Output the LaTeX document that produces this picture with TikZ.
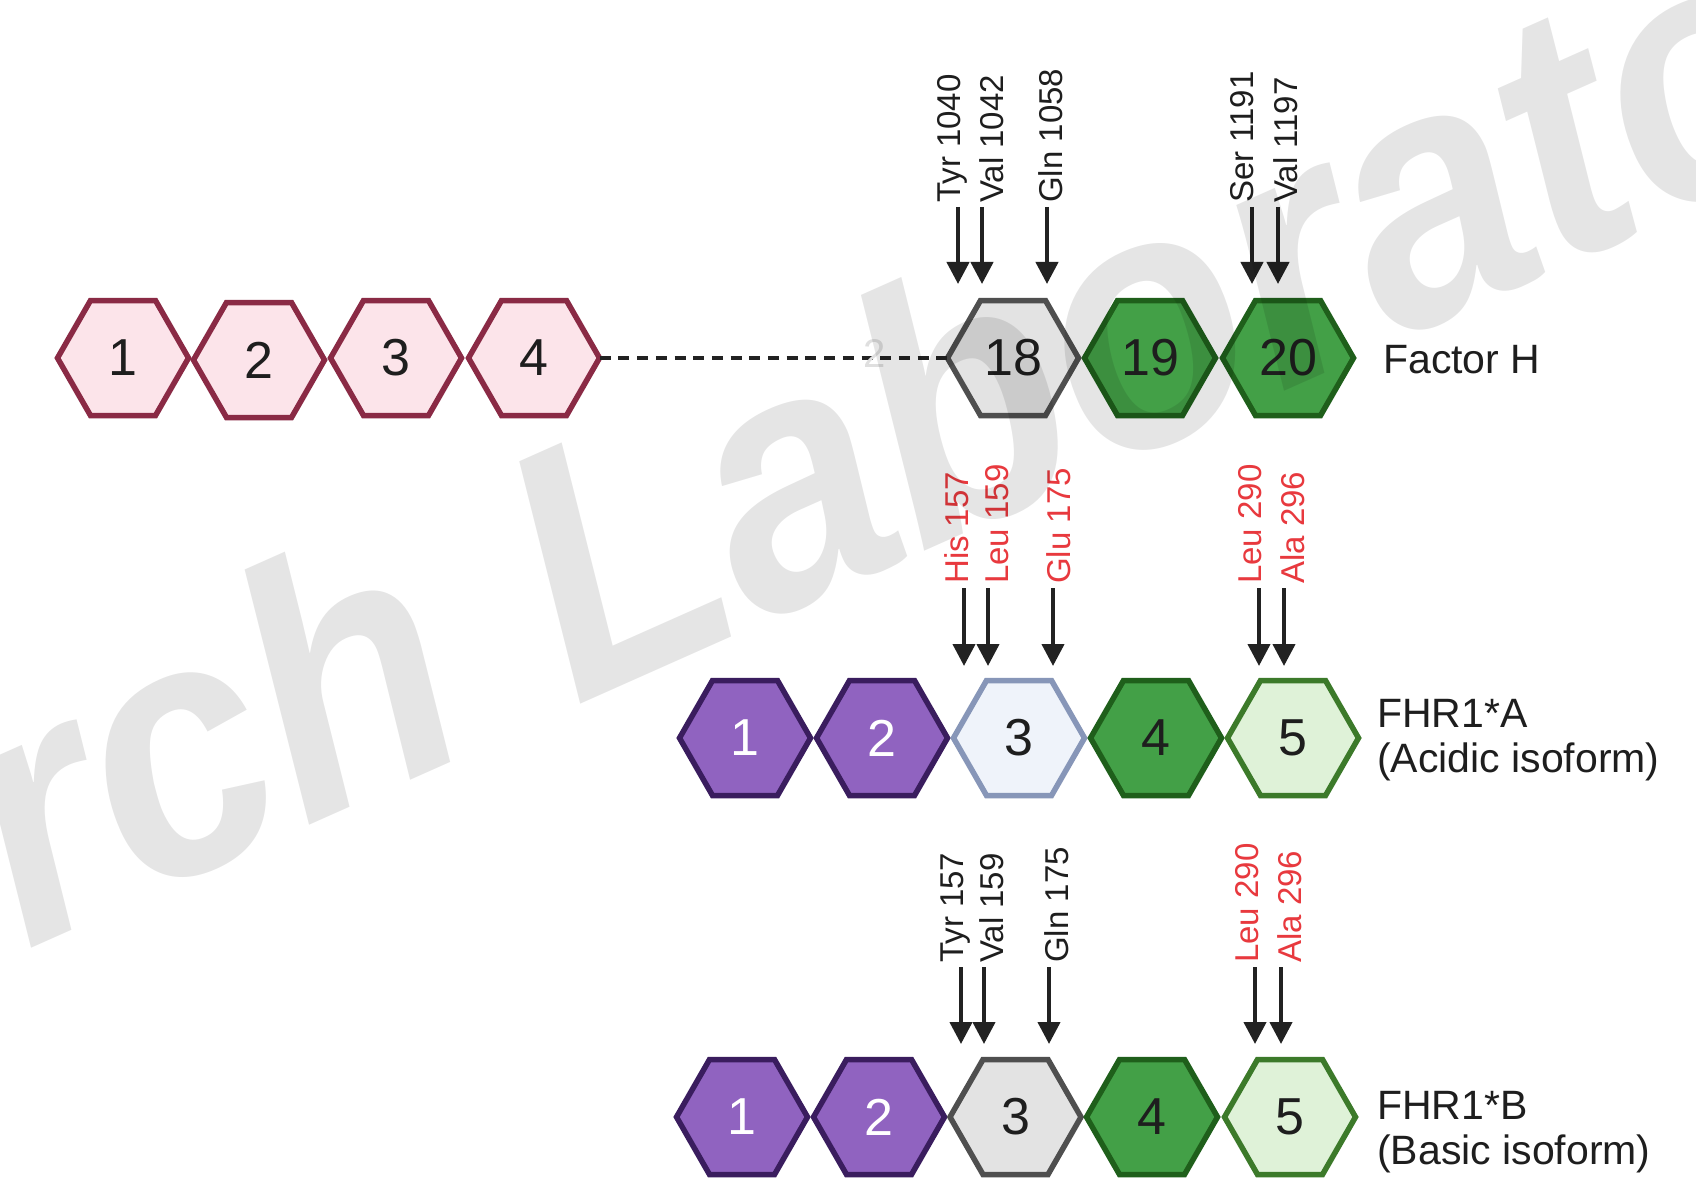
\documentclass[tikz,border=0pt]{standalone}
\usepackage{fontspec}
\setmainfont{Liberation Sans}
\usetikzlibrary{arrows.meta}
\definecolor{pinkfill}{HTML}{FCE4EA}
\definecolor{pinkline}{HTML}{8A2A45}
\definecolor{greyfill}{HTML}{E3E3E3}
\definecolor{greyline}{HTML}{4F4F4F}
\definecolor{gfill}{HTML}{43A047}
\definecolor{gline}{HTML}{1F5F1B}
\definecolor{lgfill}{HTML}{DFF2D8}
\definecolor{lgline}{HTML}{3C7A2A}
\definecolor{pfill}{HTML}{9063C0}
\definecolor{pline}{HTML}{3A1D5E}
\definecolor{bfill}{HTML}{EFF3FA}
\definecolor{bline}{HTML}{8796B8}
\definecolor{redtxt}{HTML}{E8393E}
\definecolor{ink}{HTML}{1E1E1E}
\definecolor{arrowc}{HTML}{222222}
\tikzset{
  hexbase/.style={line width=5.5pt},
  pinkhex/.style={hexbase, draw=pinkline, fill=pinkfill},
  greyhex/.style={hexbase, draw=greyline, fill=greyfill},
  greenhex/.style={hexbase, draw=gline, fill=gfill},
  lgreenhex/.style={hexbase, draw=lgline, fill=lgfill},
  purplehex/.style={hexbase, draw=pline, fill=pfill},
  bluehex/.style={hexbase, draw=bline, fill=bfill},
  hexnum/.style={inner sep=0pt, minimum width=131pt, minimum height=115pt, font=\fontsize{52}{52}\selectfont},
  reslab/.style={rotate=90, anchor=base west, inner sep=0pt, font=\fontsize{33}{33}\selectfont},
  resarr/.style={draw=arrowc, line width=4.2pt, -{Triangle[length=22pt,width=22pt]}, arrowc},
  dashln/.style={draw=arrowc, line width=4.5pt, dash pattern=on 11pt off 7.7pt},
  sidelab/.style={anchor=base west, inner sep=0pt, align=left, text=ink, font=\fontsize{41}{45}\selectfont},
}
% hexagon: #1 name, #2 cx, #3 cy, #4 style, #5 text colour, #6 text
\newcommand{\hexa}[6]{%
  \draw[#4] (#2-65.5,#3) -- (#2-32.5,#3-57.5) -- (#2+32.5,#3-57.5) -- (#2+65.5,#3)
     -- (#2+32.5,#3+57.5) -- (#2-32.5,#3+57.5) -- cycle;
  \node[hexnum, text=#5] (#1) at (#2,#3) {#6};
}
% residue arrow: #1 name, #2 arrow x, #3 top, #4 tip, #5 colour, #6 label baseline x, #7 text
\newcommand{\resarrow}[7]{%
  \coordinate (#1s) at (#2,#3);
  \coordinate (#1e) at (#2,#4);
  \node[reslab, text=#5] (#1) at (#6,#3-4) {#7};
  \draw[resarr] (#1s) -- (#1e);
}
\begin{document}
\begin{tikzpicture}[x={(1pt,0pt)}, y={(0pt,-1pt)}]
\useasboundingbox (0,0) rectangle (1696,1190);
\fill[white] (0,0) rectangle (1696,1190);

% ---------- Factor H ----------
\hexa{p1}{123}{358}{pinkhex}{ink}{1}
\hexa{p2}{259}{360}{pinkhex}{ink}{2}
\hexa{p3}{396}{358}{pinkhex}{ink}{3}
\hexa{p4}{534}{358}{pinkhex}{ink}{4}
\hexa{h18}{1013}{358}{greyhex}{ink}{18}
\hexa{h19}{1150}{358}{greenhex}{ink}{19}
\hexa{h20}{1288}{358}{greenhex}{ink}{20}
\draw[dashln] (p4.east) -- (h18.west);
\node[inner sep=0pt, text=gray!25, font=\fontsize{40}{40}\selectfont] (ghost) at (875,354) {2};
\node[sidelab] (fh) at (1383,373) {Factor H};

\resarrow{fa}{958}{207}{284}{ink}{960}{Tyr 1040}
\resarrow{fb}{982}{207}{284}{ink}{1003}{Val 1042}
\resarrow{fc}{1047}{207}{284}{ink}{1062}{Gln 1058}
\resarrow{fd}{1252}{207}{284}{ink}{1253}{Ser 1191}
\resarrow{ff}{1278}{207}{284}{ink}{1297}{Val 1197}

% ---------- FHR1*A ----------
\hexa{a1}{745}{738}{purplehex}{white}{1}
\hexa{a2}{882}{738}{purplehex}{white}{2}
\hexa{a3}{1019}{738}{bluehex}{ink}{3}
\hexa{a4}{1156}{738}{greenhex}{ink}{4}
\hexa{a5}{1293}{738}{lgreenhex}{ink}{5}
\node[sidelab] (fa) at (1377,772) {FHR1*A\\(Acidic isoform)};

\resarrow{ra}{964}{588}{666}{redtxt}{968}{His 157}
\resarrow{rb}{988}{588}{666}{redtxt}{1008}{Leu 159}
\resarrow{rc}{1053}{588}{666}{redtxt}{1070}{Glu 175}
\resarrow{rd}{1259}{588}{666}{redtxt}{1261}{Leu 290}
\resarrow{rf}{1284}{588}{666}{redtxt}{1304}{Ala 296}

% ---------- FHR1*B ----------
\hexa{b1}{742}{1117}{purplehex}{white}{1}
\hexa{b2}{879}{1117}{purplehex}{white}{2}
\hexa{b3}{1015.5}{1117}{greyhex}{ink}{3}
\hexa{b4}{1152}{1117}{greenhex}{ink}{4}
\hexa{b5}{1290}{1117}{lgreenhex}{ink}{5}
\node[sidelab] (fb) at (1377,1164) {FHR1*B\\(Basic isoform)};

\resarrow{sa}{961}{967}{1044}{ink}{963}{Tyr 157}
\resarrow{sb}{984}{967}{1044}{ink}{1003}{Val 159}
\resarrow{sc}{1049}{967}{1044}{ink}{1068}{Gln 175}
\resarrow{sd}{1255}{967}{1044}{redtxt}{1258}{Leu 290}
\resarrow{sf}{1281}{967}{1044}{redtxt}{1301}{Ala 296}

% ---------- watermark ----------
\begin{scope}
\clip (0,0) rectangle (1696,1190);
\node[rotate=24, xscale=0.9, anchor=base west, inner sep=0pt, text=black, opacity=0.1,
      font=\fontsize{358}{358}\selectfont\bfseries\itshape] (wm) at (26,951) {rch\hspace{112pt}Laborato};
\end{scope}
\end{tikzpicture}
\end{document}
